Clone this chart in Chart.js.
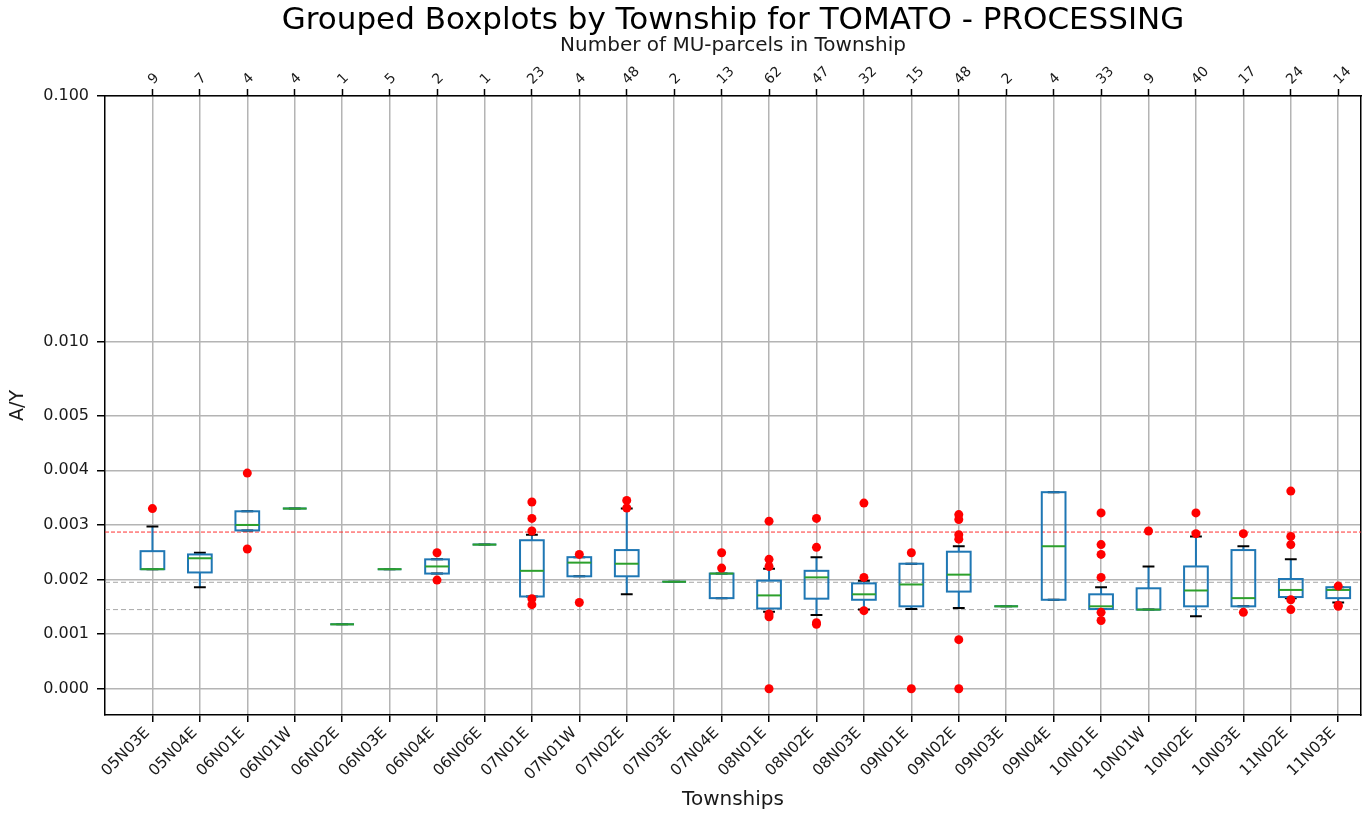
<!DOCTYPE html>
<html>
<head>
<meta charset="utf-8">
<title>Grouped Boxplots by Township</title>
<script src="https://cdn.jsdelivr.net/npm/chart.js@4.4.1/dist/chart.umd.min.js"></script>
<style>
  html, body { margin: 0; padding: 0; background: #fff; }
  #chart { display: block; }
</style>
</head>
<body>
<canvas id="chart" width="1369" height="814"></canvas>
<script>
// ---------------------------------------------------------------
// A/Y per township, TOMATO - PROCESSING
// ---------------------------------------------------------------

const townships = [
  '05N03E', '05N04E', '06N01E', '06N01W', '06N02E', '06N03E', '06N04E', '06N06E',
  '07N01E', '07N01W', '07N02E', '07N03E', '07N04E', '08N01E', '08N02E', '08N03E',
  '09N01E', '09N02E', '09N03E', '09N04E', '10N01E', '10N01W', '10N02E', '10N03E',
  '11N02E', '11N03E'
];
const parcelCounts = [9, 7, 4, 4, 1, 5, 2, 1, 23, 4, 48, 2, 13, 62, 47, 32, 15, 48, 2, 4, 33, 9, 40, 17, 24, 14];

const whiskerLow = [
  0.00219, 0.00186, 0.00290, 0.00330, 0.00118, 0.00219, 0.00211, 0.00264,
  0.00169, 0.00206, 0.00173, 0.00196, 0.00166, 0.00141, 0.00135, 0.00145,
  0.00146, 0.00148, 0.00151, 0.00163, 0.00146, 0.00145, 0.00133, 0.00151,
  0.00166, 0.00158
];
const boxQ1 = [
  0.00219, 0.00213, 0.00290, 0.00330, 0.00118, 0.00219, 0.00211, 0.00264,
  0.00169, 0.00206, 0.00206, 0.00196, 0.00166, 0.00147, 0.00165, 0.00163,
  0.00151, 0.00178, 0.00151, 0.00163, 0.00146, 0.00145, 0.00151, 0.00151,
  0.00168, 0.00166
];
const boxMedian = [
  0.00219, 0.00239, 0.00300, 0.00330, 0.00118, 0.00219, 0.00224, 0.00264,
  0.00216, 0.00231, 0.00229, 0.00196, 0.00211, 0.00171, 0.00204, 0.00173,
  0.00191, 0.00209, 0.00151, 0.00261, 0.00151, 0.00145, 0.00180, 0.00166,
  0.00181, 0.00181
];
const boxQ3 = [
  0.00252, 0.00246, 0.00325, 0.00330, 0.00118, 0.00219, 0.00237, 0.00264,
  0.00272, 0.00241, 0.00254, 0.00196, 0.00211, 0.00198, 0.00216, 0.00193,
  0.00229, 0.00251, 0.00151, 0.00360, 0.00173, 0.00184, 0.00224, 0.00254,
  0.00201, 0.00186
];
const whiskerHigh = [
  0.00297, 0.00249, 0.00325, 0.00330, 0.00118, 0.00219, 0.00237, 0.00264,
  0.00282, 0.00241, 0.00330, 0.00196, 0.00211, 0.00220, 0.00241, 0.00198,
  0.00229, 0.00261, 0.00151, 0.00360, 0.00186, 0.00224, 0.00279, 0.00261,
  0.00237, 0.00186
];
const outliers = [
  [0.00330], [], [0.00395, 0.00256], [], [], [], [0.00249, 0.00199], [],
  [0.00342, 0.00312, 0.00289, 0.00165, 0.00154], [0.00246, 0.00158], [0.00345, 0.00331], [],
  [0.00249, 0.00221], [0.00307, 0.00237, 0.00224, 0.00137, 0.00132, 0],
  [0.00312, 0.00259, 0.00121, 0.00118], [0.00340, 0.00204, 0.00143],
  [0.00249, 0], [0.00319, 0.00310, 0.00282, 0.00274, 0.00090, 0], [], [],
  [0.00322, 0.00264, 0.00246, 0.00204, 0.00140, 0.00125], [0.00289],
  [0.00322, 0.00284], [0.00284, 0.00140], [0.00362, 0.00279, 0.00264, 0.00163, 0.00145],
  [0.00188, 0.00153, 0.00151]
];

// horizontal reference levels: first is red, the other two grey
const referenceLevels = [0.00287, 0.00195, 0.00145];

const yTickValues = [0, 0.001, 0.002, 0.003, 0.004, 0.005, 0.010, 0.100];

const X_MAX = 26.48;
const Y_MIN = -0.00048;
const BOX_WIDTH = 0.5;
const CAP_WIDTH = 0.25;

const FONT = "'DejaVu Sans', sans-serif";
const GRID = '#b4b4b4';
const BLUE = '#1f77b4';

// ---------------------------------------------------------------
// symmetric log axis (linear below 0.005, log10 above)
// ---------------------------------------------------------------
const LINTHRESH = 0.005;
const LINSCALE = 1 / (1 - 1 / 10);

function symlog(v) {
  const a = Math.abs(v);
  const t = a <= LINTHRESH ? a / LINTHRESH * LINSCALE : LINSCALE + Math.log10(a / LINTHRESH);
  return Math.sign(v) * t;
}

function symexp(t) {
  const a = Math.abs(t);
  const v = a <= LINSCALE ? a / LINSCALE * LINTHRESH : LINTHRESH * Math.pow(10, a - LINSCALE);
  return Math.sign(t) * v;
}

class SymlogScale extends Chart.LinearScale {
  buildTicks() {
    return yTickValues.map(value => ({ value }));
  }
  configure() {
    super.configure();
    this._tStart = symlog(this.min);
    this._tRange = symlog(this.max) - this._tStart;
  }
  getPixelForValue(value) {
    return this.getPixelForDecimal((symlog(value) - this._tStart) / this._tRange);
  }
  getValueForPixel(pixel) {
    return symexp(this.getDecimalForPixel(pixel) * this._tRange + this._tStart);
  }
}
SymlogScale.id = 'symlog';
SymlogScale.defaults = Chart.LinearScale.defaults;
Chart.register(SymlogScale);

// ---------------------------------------------------------------
// boxes, whiskers, caps and medians
// ---------------------------------------------------------------
const boxplotPlugin = {
  id: 'boxplot',
  // datasets are painted last-to-first, so dataset 0 (the outliers) goes on top
  beforeDatasetDraw(chart, args) {
    if (args.index !== 0) return;
    const { ctx, scales: { x, y } } = chart;
    ctx.save();
    ctx.lineWidth = 2;

    townships.forEach((name, i) => {
      const cx = x.getPixelForValue(i + 1);
      const boxHalf = x.getPixelForValue(i + 1 + BOX_WIDTH / 2) - cx;
      const capHalf = x.getPixelForValue(i + 1 + CAP_WIDTH / 2) - cx;
      const lo = y.getPixelForValue(whiskerLow[i]);
      const q1 = y.getPixelForValue(boxQ1[i]);
      const med = y.getPixelForValue(boxMedian[i]);
      const q3 = y.getPixelForValue(boxQ3[i]);
      const hi = y.getPixelForValue(whiskerHigh[i]);

      ctx.strokeStyle = BLUE;
      ctx.beginPath();
      ctx.moveTo(cx, q3); ctx.lineTo(cx, hi);
      ctx.moveTo(cx, q1); ctx.lineTo(cx, lo);
      ctx.stroke();

      ctx.strokeStyle = '#000';
      ctx.beginPath();
      ctx.moveTo(cx - capHalf, hi); ctx.lineTo(cx + capHalf, hi);
      ctx.moveTo(cx - capHalf, lo); ctx.lineTo(cx + capHalf, lo);
      ctx.stroke();

      ctx.strokeStyle = BLUE;
      ctx.strokeRect(cx - boxHalf, q3, boxHalf * 2, q1 - q3);

      ctx.strokeStyle = '#2ca02c';
      ctx.beginPath();
      ctx.moveTo(cx - boxHalf, med); ctx.lineTo(cx + boxHalf, med);
      ctx.stroke();
    });

    ctx.restore();
  }
};

const outlierPoints = outliers.flatMap((vals, i) => vals.map(v => ({ x: i + 1, y: v })));

const referenceDatasets = referenceLevels.map((level, k) => ({
  type: 'line',
  data: [{ x: 0, y: level }, { x: X_MAX, y: level }],
  borderColor: k === 0 ? '#ff3030' : '#a8a8a8',
  borderWidth: 1,
  borderDash: k === 0 ? [4, 2] : [5, 3],
  pointRadius: 0
}));

const positionTicks = scale => {
  scale.ticks = townships.map((t, i) => ({ value: i + 1 }));
};

Chart.defaults.font.family = FONT;
Chart.defaults.color = '#1a1a1a';

new Chart(document.getElementById('chart'), {
  type: 'scatter',
  data: {
    datasets: [
      {
        label: 'Outliers',
        data: outlierPoints,
        pointRadius: 4.5,
        pointBackgroundColor: '#ff0000',
        pointBorderWidth: 0
      },
      ...referenceDatasets
    ]
  },
  options: {
    responsive: false,
    animation: false,
    layout: { padding: 0 },
    plugins: {
      legend: { display: false },
      tooltip: { enabled: false },
      title: {
        display: true,
        fullSize: false,
        text: 'Grouped Boxplots by Township for TOMATO - PROCESSING',
        color: '#000',
        font: { size: 31, weight: 'normal', lineHeight: 1 },
        padding: { top: 5, bottom: 0 }
      }
    },
    scales: {
      x: {
        type: 'linear',
        position: 'bottom',
        min: 0,
        max: X_MAX,
        afterBuildTicks: positionTicks,
        afterFit: scale => { scale.height = 99; },
        ticks: {
          autoSkip: false,
          minRotation: 45,
          maxRotation: 45,
          padding: 2,
          labelOffset: -5,
          font: { size: 15.5 },
          callback: v => townships[v - 1]
        },
        grid: { color: GRID, lineWidth: 1.5, tickColor: '#000', tickLength: 7, tickWidth: 1.5 },
        border: { color: '#000', width: 1.5 },
        title: { display: true, text: 'Townships', font: { size: 20 }, padding: { top: 0, bottom: 2 } }
      },
      x2: {
        type: 'linear',
        position: 'top',
        min: 0,
        max: X_MAX,
        afterBuildTicks: positionTicks,
        afterFit: scale => { scale.height = 60; },
        ticks: {
          autoSkip: false,
          minRotation: 45,
          maxRotation: 45,
          padding: 1,
          labelOffset: 10,
          font: { size: 14 },
          callback: v => parcelCounts[v - 1]
        },
        grid: { drawOnChartArea: false, tickColor: '#000', tickLength: 7, tickWidth: 1.5 },
        border: { color: '#000', width: 1.5 },
        title: {
          display: true,
          text: 'Number of MU-parcels in Township',
          font: { size: 20, lineHeight: 1 },
          padding: { top: 0, bottom: 0 }
        }
      },
      y: {
        type: 'symlog',
        min: Y_MIN,
        max: 0.1,
        afterFit: scale => { scale.width = 105; },
        ticks: { font: { size: 16 }, padding: 8, callback: v => v.toFixed(3) },
        grid: { color: GRID, lineWidth: 1.5, tickColor: '#000', tickLength: 8, tickWidth: 1.5 },
        border: { color: '#000', width: 1.5 },
        title: { display: true, text: 'A/Y', font: { size: 19 }, padding: { top: 7, bottom: 0 } }
      },
      y2: {
        position: 'right',
        afterFit: scale => { scale.width = 8; },
        ticks: { display: false },
        grid: { display: false },
        border: { color: '#000', width: 1.5 }
      }
    }
  },
  plugins: [boxplotPlugin]
});
</script>
</body>
</html>
